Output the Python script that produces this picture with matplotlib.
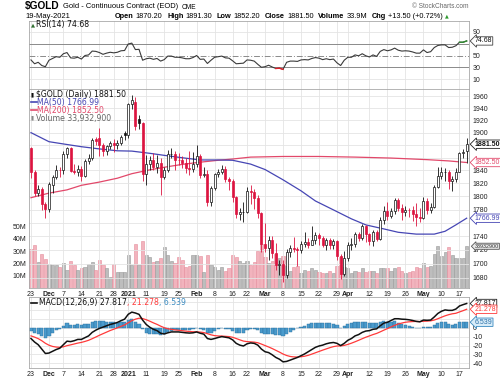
import matplotlib
matplotlib.use("Agg")
import matplotlib.pyplot as plt
import matplotlib.transforms as mtrans
from matplotlib.lines import Line2D
from matplotlib.patches import Rectangle
from matplotlib.ticker import FixedLocator, NullLocator, FuncFormatter
import numpy as np

# ---- data (trading days 23 Nov 2020 .. 19 May 2021) ----
prev_close = 1872.1  # 20 Nov close, only used for the colour of the first candle

opens = [1875, 1837, 1805, 1811, 1788, 1781, 1817, 1830, 1841, 1840,
         1866, 1875, 1839, 1837, 1843, 1832, 1855, 1859, 1890, 1892,
         1880, 1870, 1878, 1883, 1880, 1883, 1899, 1896, 1946, 1950,
         1922, 1916, 1835, 1850, 1856, 1845, 1851, 1830, 1840, 1866,
         1866, 1856, 1856, 1851, 1844, 1843, 1850, 1863, 1833, 1835,
         1791, 1813, 1834, 1838, 1842, 1827, 1823, 1799, 1773, 1776,
         1777, 1809, 1806, 1798, 1775, 1729, 1723, 1734, 1716, 1698,
         1699, 1684, 1717, 1723, 1722, 1720, 1729, 1731, 1728, 1735,
         1742, 1738, 1728, 1735, 1727, 1733, 1711, 1685, 1708, 1728,
         1729, 1743, 1737, 1756, 1744, 1733, 1747, 1736, 1764, 1778,
         1770, 1778, 1794, 1783, 1777, 1780, 1779, 1774, 1768, 1768,
         1793, 1779, 1784, 1815, 1831, 1837, 1838, 1823, 1826, 1838,
         1868, 1870.2]
highs = [1877, 1840, 1817, 1815, 1791, 1822, 1833, 1848, 1846, 1870,
         1877, 1877, 1850, 1848, 1847, 1858, 1866, 1892, 1893, 1908,
         1884, 1880, 1886, 1890, 1888, 1897, 1903, 1948, 1961, 1959,
         1928, 1918, 1864, 1863, 1868, 1865, 1859, 1845, 1872, 1875,
         1870, 1867, 1862, 1859, 1870, 1869, 1880, 1866, 1845, 1840,
         1816, 1836, 1842, 1849, 1847, 1830, 1826, 1800, 1783, 1791,
         1814, 1817, 1811, 1802, 1777, 1760, 1740, 1740, 1730, 1706,
         1705, 1721, 1728, 1739, 1725, 1733, 1746, 1738, 1755, 1746,
         1745, 1741, 1738, 1737, 1736, 1734, 1714, 1718, 1732, 1738,
         1747, 1747, 1759, 1757, 1745, 1750, 1749, 1769, 1785, 1791,
         1783, 1797, 1798, 1789, 1786, 1782, 1785, 1790, 1783, 1799,
         1798, 1790, 1818, 1845, 1845, 1844, 1841, 1831, 1844, 1869,
         1874, 1891.3]
lows = [1828, 1800, 1800, 1780, 1767, 1777, 1805, 1827, 1830, 1835,
        1860, 1837, 1835, 1832, 1823, 1830, 1850, 1857, 1880, 1862,
        1863, 1864, 1874, 1869, 1874, 1880, 1888, 1892, 1938, 1905,
        1906, 1823, 1818, 1840, 1840, 1836, 1802, 1826, 1838, 1859,
        1841, 1848, 1844, 1836, 1833, 1838, 1846, 1829, 1830, 1786,
        1785, 1810, 1830, 1834, 1822, 1810, 1792, 1768, 1765, 1762,
        1775, 1788, 1781, 1767, 1717, 1717, 1706, 1708, 1691, 1684,
        1674, 1680, 1710, 1717, 1697, 1716, 1724, 1723, 1727, 1729,
        1727, 1724, 1720, 1722, 1722, 1705, 1678, 1683, 1704, 1720,
        1725, 1733, 1735, 1732, 1727, 1726, 1733, 1735, 1758, 1765,
        1767, 1774, 1778, 1765, 1770, 1769, 1763, 1756, 1761, 1766,
        1773, 1775, 1782, 1813, 1826, 1823, 1811, 1808, 1822, 1838,
        1860, 1852.2]
closes = [1838, 1805, 1811, 1788, 1781, 1819, 1830, 1841, 1840, 1866,
          1875, 1839, 1837, 1843, 1832, 1855, 1859, 1888, 1886, 1880,
          1870, 1878, 1883, 1880, 1883, 1893, 1895.5, 1946, 1954, 1911,
          1916, 1835, 1850, 1856, 1845, 1851, 1830, 1840, 1866, 1866.5,
          1856, 1855.8, 1851, 1844, 1843, 1850, 1863, 1833, 1835, 1791,
          1813, 1834, 1838, 1842, 1827, 1823, 1799, 1773, 1776, 1777,
          1809, 1806, 1798, 1775, 1729, 1723, 1734, 1716, 1698, 1699,
          1684, 1717, 1723, 1722, 1720, 1729, 1731, 1728, 1735, 1742,
          1738, 1728, 1735, 1727, 1733, 1711, 1685, 1708, 1728, 1729,
          1743, 1737, 1756, 1744, 1733, 1747, 1736, 1764, 1778, 1770,
          1778, 1794, 1783, 1777, 1780, 1779, 1774, 1768.5, 1767.7, 1793,
          1779, 1784, 1815, 1831, 1837, 1838, 1823, 1826, 1838, 1867.6,
          1868, 1881.5]
volume_m = [31.7, 35, 21, 27.6, 23.5, 19.5, 19, 18.5, 17, 20.5,
            15, 22, 18.5, 15, 16.5, 17, 19.5, 21, 15, 22.5,
            18.5, 16.5, 8.6, 19.5, 12.7, 12.7, 13, 27, 19, 36,
            19, 38, 27, 25, 21, 22, 24, 33, 27, 22,
            20, 25, 23, 17, 18, 27, 27, 26, 13, 27,
            19, 17, 15, 17, 14, 16, 27, 25, 22, 20,
            22, 19, 21, 30, 36, 25, 20, 22, 28, 24,
            26, 18, 14, 17, 18, 12, 15, 14, 16, 15,
            13, 12, 12, 14, 12, 18, 25, 17, 16, 12,
            14, 13, 16, 13, 14, 14, 12, 16, 16, 16,
            14, 16, 17, 14, 12, 13, 14, 17, 16, 20,
            17, 18, 28, 34, 26, 29, 33, 27, 24, 24,
            24, 33.9329]

ma50_at = [0, 5, 10, 14, 19, 24, 28, 33, 38, 42, 47, 52, 56, 61, 65,
           70, 75, 79, 84, 89, 93, 98, 102, 107, 112, 115, 118, 121]
ma50 = [1900, 1885.5, 1881, 1877.5, 1874, 1871, 1870.5, 1867, 1863, 1860,
        1856.5, 1856.5, 1856, 1850, 1841.5, 1825.5, 1808.5, 1793, 1779.5,
        1766, 1757, 1751, 1746, 1743.3, 1743.3, 1747.5, 1757, 1766.99]
ma200_at = [0, 5, 10, 14, 19, 24, 28, 33, 38, 42, 47, 52, 56, 61, 70,
            80, 90, 100, 110, 116, 121]
ma200 = [1798, 1805, 1810, 1817, 1822, 1828, 1835, 1841, 1846, 1849.5,
         1853, 1856, 1858, 1861, 1862, 1862, 1861, 1859.5, 1857, 1855, 1852.5]

rsi = [42.5, 36, 38.5, 33, 31, 42, 45, 48, 47, 53,
       55, 46, 45.5, 47, 44, 50, 51, 57.5, 57, 55,
       52, 54, 55.5, 54.5, 55.5, 58, 58.5, 69.5, 71, 60,
       60.5, 42, 44.5, 45.5, 43.5, 45, 40.5, 43, 49, 49,
       47, 47, 46, 44.5, 44.5, 46.5, 50, 43.5, 44, 36.5,
       42, 47, 48, 49, 46, 45.5, 41, 36, 36.5, 37,
       42.5, 42, 40.5, 35, 30, 31, 33.5, 30.5, 28, 28.5,
       26.5, 38.5, 40.5, 40.5, 40, 42.5, 43, 42.5, 45, 46.5,
       45.5, 43, 44.5, 43, 44, 37.5, 33, 42, 47, 47,
       51, 49.5, 53, 49.5, 47.5, 51, 48.5, 57, 60, 58,
       59.5, 62.5, 59, 57.5, 58, 57.5, 56, 54, 54, 59.5,
       55, 56.5, 63.5, 67, 68, 68, 63.5, 64, 66.5, 72.5,
       72.5, 74.68]

macd = [-12, -16, -19, -24, -29, -28.5, -26.5, -24.5, -23, -19,
        -15, -15.5, -14.5, -13, -13, -11, -9, -5, -2.5, -0.5,
        1, 2.5, 4, 5, 6.3, 8.3, 10, 15.5, 18, 17,
        15.5, 9, 4, 0.8, -1.5, -3, -6, -6.8, -5.5, -4.5,
        -4.5, -4.5, -5, -5.5, -5.8, -5.5, -4.5, -6, -7, -12,
        -13, -12, -10.8, -9.8, -10.5, -11.2, -13.5, -17.5, -19.5, -20.5,
        -18, -17, -17.5, -19.5, -24, -27, -28, -30.5, -33.5, -35.5,
        -38.5, -38, -36.5, -35, -33.5, -31.5, -29.5, -27, -24.5, -22,
        -20.5, -19.5, -18, -17, -16.5, -17.5, -20, -17.5, -14, -12,
        -9, -7.5, -5, -3.5, -3, -1.5, -1, 2.5, 5.5, 6.5,
        8.5, 10.5, 10.5, 10, 9.8, 9.3, 8.5, 7.5, 7, 9,
        8.7, 9, 12.5, 16.5, 19, 20.5, 20, 20, 21.5, 25,
        26.5, 27.817]
signal = [-9, -10.4, -12.1, -14.5, -17.4, -19.6, -21.0, -21.7, -22.0, -21.4,
          -20.1, -19.2, -18.2, -17.2, -16.4, -15.3, -14.0, -12.2, -10.3, -8.3,
          -6.5, -4.7, -2.9, -1.4, 0.2, 1.8, 3.4, 5.9, 8.3, 10.0,
          11.1, 10.7, 9.4, 7.7, 5.8, 4.1, 2.1, 0.3, -0.9, -1.6,
          -2.2, -2.6, -3.1, -3.6, -4.0, -4.3, -4.4, -4.7, -5.2, -6.5,
          -7.8, -8.7, -9.1, -9.2, -9.5, -9.8, -10.6, -12.0, -13.5, -14.9,
          -15.5, -15.8, -16.1, -16.8, -18.3, -20.0, -21.6, -23.4, -25.4, -27.4,
          -29.6, -31.3, -32.4, -32.9, -33.0, -32.7, -32.1, -31.1, -29.7, -28.2,
          -26.7, -25.2, -23.8, -22.4, -21.2, -20.5, -20.4, -19.8, -18.7, -17.3,
          -15.7, -14.0, -12.2, -10.5, -9.0, -7.5, -6.2, -4.4, -2.5, -0.7,
          1.2, 3.0, 4.5, 5.6, 6.5, 7.0, 7.3, 7.4, 7.3, 7.6,
          7.8, 8.1, 9.0, 10.5, 12.2, 13.8, 15.1, 16.1, 16.7, 18.2,
          19.65, 21.278]

tick_at = [0, 5, 9, 14, 19, 23, 27, 32, 37, 41, 46, 51, 56, 60, 65, 70,
           75, 80, 85, 88, 94, 99, 104, 109, 114, 119]
tick_labels = ["23", "Dec", "7", "14", "21", "28", "2021", "11", "19", "25",
               "Feb", "8", "16", "22", "Mar", "8", "15", "22", "29", "Apr",
               "12", "19", "26", "May", "10", "17"]
bold_labels = {"Dec", "2021", "Feb", "Mar", "Apr", "May"}

price_ticks = list(range(1680, 1961, 20))
vol_ticks = [10, 20, 30, 40, 50]
rsi_ticks = [10, 30, 50, 70, 90]
macd_ticks = [-40, -30, -20, -10, 0, 10, 20, 30]
# tick labels that sit under the value tags on the right edge
hidden_ticks = {1880, 1860, 1760, 70, 30, 20, 10}

# ---- styling ----
RED = "#dc1440"
BLACK = "#111111"
GRID = "#e4e4e4"
SPINE = "#a8a8a8"
BLUE_MA = "#4646b4"
RED_MA = "#e2486a"
W, H = 500, 379
L, R = 29, 469

plt.rcParams["font.family"] = "Liberation Sans"
plt.rcParams["font.size"] = 5


def fx(x):
    return x / W


def fy(y):
    return 1 - y / H


def rect(top, bot):
    return [fx(L), fy(bot), (R - L) / W, (bot - top) / H]


def make_fmt(hidden):
    def fmt(v, p):
        v = int(round(v))
        return "" if v in hidden else f"{v}"
    return fmt


opens = np.array(opens)
highs = np.array(highs)
lows = np.array(lows)
closes = np.array(closes)
volume_m = np.array(volume_m)
rsi = np.array(rsi)
macd = np.array(macd)
signal = np.array(signal)
hist = macd - signal
n = len(closes)
x = np.arange(n)
prev = np.r_[prev_close, closes[:-1]]
up = closes >= prev

fig = plt.figure(figsize=(5, 3.79), dpi=100)
ax_rsi = fig.add_axes(rect(21, 89))
ax_vol = fig.add_axes(rect(89, 288))
ax_pr = fig.add_axes(rect(89, 288))
ax_macd = fig.add_axes(rect(297, 368))
ax_pr.patch.set_visible(False)


def style_panel(ax):
    ax.set_xlim(-0.55, 121.65)
    ax.set_xticks(tick_at)
    ax.grid(True, color=GRID, lw=0.6)
    ax.set_axisbelow(True)
    for s in ax.spines.values():
        s.set_color(SPINE)
        s.set_linewidth(0.6)
    ax.tick_params(axis="x", length=0, pad=2, labelsize=5, colors="#222222")
    ax.tick_params(axis="y", length=0, pad=2.5, labelsize=5, colors="#222222")
    ax.yaxis.tick_right()
    # darker line where the year starts
    ax.axvline(27, color="#b4b4b4", lw=0.7, zorder=0.5)


def date_labels(ax):
    ax.set_xticklabels(tick_labels)
    for lab, t in zip(ax.get_xticklabels(), tick_labels):
        if t in bold_labels:
            lab.set_fontweight("bold")


def tag(ax, y, s, ec, tc, fc="white", weight="normal", trans=None, size=5.0):
    if trans is None:
        trans = ax.get_yaxis_transform()
    ax.annotate(s, xy=(1.0, y), xycoords=trans, xytext=(4.0, 0),
                textcoords="offset points", ha="left", va="center",
                fontsize=size, color=tc, fontweight=weight,
                bbox=dict(boxstyle="larrow,pad=0.1", fc=fc, ec=ec, lw=0.6),
                annotation_clip=False, zorder=20)


# ---- RSI panel ----
style_panel(ax_rsi)
ax_rsi.set_ylim(-6.8, 108.5)
ax_rsi.set_yticks(rsi_ticks)
ax_rsi.yaxis.set_major_formatter(FuncFormatter(make_fmt({70})))
ax_rsi.tick_params(labelbottom=False)
ax_rsi.grid(False, axis="y")
for lvl in (10, 90):
    ax_rsi.axhline(lvl, color=GRID, lw=0.6, zorder=0)
ax_rsi.axhline(70, color="#8a8a8a", lw=0.7)
ax_rsi.axhline(30, color="#8a8a8a", lw=0.7)
ax_rsi.axhline(50, color="#8a8a8a", lw=0.7, ls=(0, (6, 2, 1, 2)))
ax_rsi.plot(x, rsi, color="#3a3a3a", lw=0.8, zorder=3)
ax_rsi.plot(x, np.ma.masked_where(rsi < 70, rsi), color="#2e8b2e", lw=1.0, zorder=4)
ax_rsi.plot(x, np.ma.masked_where(rsi > 30, rsi), color="#e0202a", lw=1.0, zorder=4)
tag(ax_rsi, rsi[-1], f"{rsi[-1]:.2f}", "#444444", "#111111")

# ---- price + volume panel ----
ax_vol.set_xlim(-0.55, 121.65)
ax_vol.set_ylim(0, 199 / 1.23)
vcol = np.where(up, "#bdbdbd", "#f2b3bd")
vedge = np.where(up, "#9a9a9a", "#e58d9c")
ax_vol.bar(x, volume_m, width=0.86, color=vcol, edgecolor=vedge, lw=0.4)
ax_vol.set_xticks([])
ax_vol.set_yticks(vol_ticks)
ax_vol.set_yticklabels([f"{v}M" for v in vol_ticks])
ax_vol.tick_params(axis="y", length=0, pad=2, labelsize=5, colors="#222222")
for s in ax_vol.spines.values():
    s.set_visible(False)

style_panel(ax_pr)
ax_pr.set_yscale("log")
ax_pr.set_ylim(1665.4, 1971.7)
ax_pr.yaxis.set_major_locator(FixedLocator(price_ticks))
ax_pr.yaxis.set_minor_locator(NullLocator())
ax_pr.yaxis.set_major_formatter(FuncFormatter(make_fmt({1880, 1860, 1760})))
date_labels(ax_pr)

ax_pr.plot(ma200_at, ma200, color=RED_MA, lw=0.9, zorder=3)
ax_pr.plot(ma50_at, ma50, color=BLUE_MA, lw=0.9, zorder=3)
for i in range(n):
    col = BLACK if up[i] else RED
    ax_pr.vlines(i, lows[i], highs[i], color=col, lw=0.6, zorder=4)
    lo, hi = sorted((opens[i], closes[i]))
    filled = closes[i] < opens[i]
    ax_pr.add_patch(Rectangle((i - 0.28, lo), 0.56, max(hi - lo, 0.7),
                              fc=col if filled else "white", ec=col, lw=0.5, zorder=5))

tag(ax_pr, closes[-1], f"{closes[-1]:.2f}", "#222222", "#111111", weight="bold")
tag(ax_pr, ma200[-1], f"{ma200[-1]:.2f}", RED_MA, RED_MA)
tag(ax_pr, ma50[-1], f"{ma50[-1]:.2f}", BLUE_MA, BLUE_MA)
vol_trans = mtrans.blended_transform_factory(ax_pr.transAxes, ax_vol.transData)
tag(ax_pr, volume_m[-1], f"{round(volume_m[-1] * 1e6):d}", "#555555", "#333333",
    fc="#e8e8e8", trans=vol_trans, size=3.9)

# ---- MACD panel ----
style_panel(ax_macd)
ax_macd.set_ylim(-45.5, 35.2)
ax_macd.set_yticks(macd_ticks)
ax_macd.yaxis.set_major_formatter(FuncFormatter(make_fmt({30, 20, 10})))
date_labels(ax_macd)
ax_macd.bar(x, hist, width=0.86, color="#4a9bcc", edgecolor="#2b6f9e", lw=0.3, zorder=2)
ax_macd.plot(x, signal, color="#ff3a3a", lw=0.9, zorder=3)
ax_macd.plot(x, macd, color=BLACK, lw=1.1, zorder=4)
tag(ax_macd, macd[-1], f"{macd[-1]:.3f}", "#222222", "#111111")
tag(ax_macd, signal[-1], f"{signal[-1]:.3f}", "#ff3a3a", "#ff3a3a")
tag(ax_macd, hist[-1], f"{hist[-1]:.3f}", "#3a8ac0", "#2a70a8", fc="#d8ecf8")

# ---- header ----
fig.text(fx(25), fy(6.5), "$GOLD", fontsize=7.3, fontweight="bold", va="center")
fig.text(fx(63), fy(6.8), "Gold - Continuous Contract (EOD)", fontsize=5.4, va="center")
fig.text(fx(182), fy(7.2), "CME", fontsize=4.8, va="center")
fig.text(fx(468), fy(6), "\u00a9 StockCharts.com", fontsize=4.7, va="center",
         ha="right", color="#666666")
fig.text(fx(25), fy(16), "19-May-2021", fontsize=5.5, va="center")
chg = closes[-1] - closes[-2]
items = [("Open", True), (f"{opens[-1]:.2f}", False),
         ("High", True), (f"{highs[-1]:.2f}", False),
         ("Low", True), (f"{lows[-1]:.2f}", False),
         ("Close", True), (f"{closes[-1]:.2f}", False),
         ("Volume", True), (f"{volume_m[-1]:.1f}M", False),
         ("Chg", True), (f"{chg:+.2f} ({chg / closes[-2] * 100:+.2f}%)", False)]
prev_t = fig.text(fx(115), fy(16), items[0][0], fontsize=5.3, va="center",
                  fontweight="bold")
for s, b in items[1:]:
    gap = 3.4 if b else 1.4
    prev_t = fig.add_artist(plt.Annotation(
        s, xy=(1, 0.5), xycoords=prev_t, xytext=(gap, 0), textcoords="offset points",
        va="center", ha="left", fontsize=5.3, fontweight="bold" if b else "normal"))
fig.add_artist(plt.Annotation("\u25b2", xy=(1, 0.5), xycoords=prev_t, xytext=(1.5, 0),
                              textcoords="offset points", va="center", ha="left",
                              fontsize=3.5, color="#2e9a2e", family="DejaVu Sans"))

# ---- panel legends ----
LEG = dict(fontsize=5.6, va="center", family="DejaVu Sans")
fig.text(fx(30.5), fy(25), "\u25b2", fontsize=3.8, va="center", color="#2e6e2e",
         family="DejaVu Sans")
fig.text(fx(36), fy(25), f"RSI(14) {rsi[-1]:.2f}", color="#111111", **LEG)

fig.text(fx(30.5), fy(94.5), "\u25ae", fontsize=4, va="center", color="#111111",
         family="DejaVu Sans")
fig.text(fx(36), fy(94.5), f"$GOLD (Daily) {closes[-1]:.2f}", color="#111111", **LEG)
fig.add_artist(Line2D([fx(31), fx(36.5)], [fy(102.3)] * 2, color=BLUE_MA, lw=1.2))
fig.text(fx(37), fy(102.3), f"MA(50) {ma50[-1]:.2f}", color=BLUE_MA, **LEG)
fig.add_artist(Line2D([fx(31), fx(36.5)], [fy(110.3)] * 2, color=RED_MA, lw=1.2))
fig.text(fx(37), fy(110.3), f"MA(200) {ma200[-1]:.2f}", color=RED_MA, **LEG)
fig.text(fx(30.5), fy(118.3), "\u25ae", fontsize=4, va="center", color="#888888",
         family="DejaVu Sans")
fig.text(fx(36), fy(118.3), f"Volume {round(volume_m[-1] * 1e6):,d}",
         color="#666666", **LEG)

fig.add_artist(Line2D([fx(31), fx(37)], [fy(302.7)] * 2, color=BLACK, lw=1.2))
t1 = fig.text(fx(39), fy(302.7), f"MACD(12,26,9) {macd[-1]:.3f}", color="#111111", **LEG)
t2 = ax_macd.annotate(f", {signal[-1]:.3f}", xy=(1, 0.5), xycoords=t1, va="center",
                      ha="left", color="#ff3a3a", fontsize=5.6, family="DejaVu Sans")
ax_macd.annotate(f", {hist[-1]:.3f}", xy=(1, 0.5), xycoords=t2, va="center",
                 ha="left", color="#3a8ac0", fontsize=5.6, family="DejaVu Sans")

fig.savefig("out.png", dpi=100)
